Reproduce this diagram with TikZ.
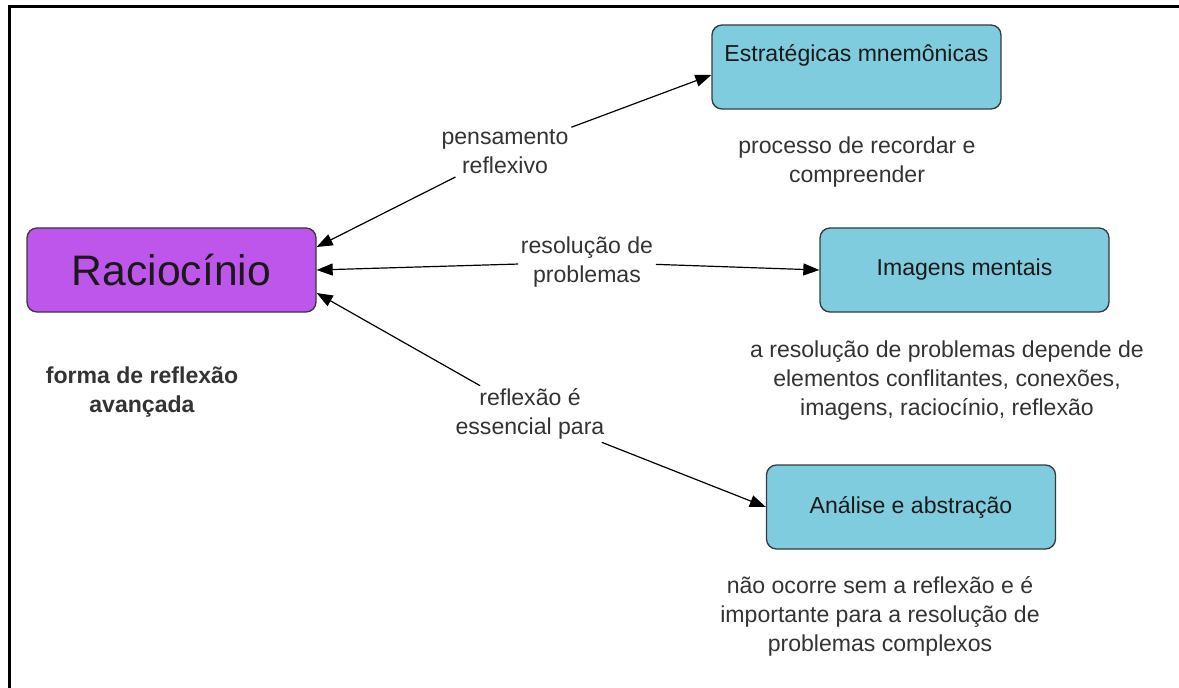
\documentclass[tikz,border=0pt]{standalone}
\usepackage{fontspec}
\setmainfont{Liberation Sans}
\usepackage{xcolor}
\usetikzlibrary{arrows.meta,shapes}
\usetikzlibrary{positioning}

\definecolor{racfill}{HTML}{BF56EC}
\definecolor{boxfill}{HTML}{7ECCDE}
\definecolor{boxdraw}{HTML}{36393D}
\definecolor{txtgray}{HTML}{333333}
\definecolor{txtdark}{HTML}{1A1A1A}

\begin{document}
\begin{tikzpicture}[x=0.75pt,y=-0.75pt]
            \tikzstyle{every node}=[font=\fontsize{17.3}{21.75}\selectfont,align=center,text=txtgray];
            \tikzstyle{conceito}=[draw=boxdraw,line width=1pt,rounded corners=7.5pt,minimum width=216.75pt,minimum height=63pt,inner sep=0pt,text=txtdark];
            \tikzstyle{rotulo}=[inner sep=2pt];
            \tikzstyle{seta}=[draw,line width=0.9pt,-{Triangle[length=12pt,width=9pt]}];
            \useasboundingbox (0,0) rectangle (1179,688);
            \draw[line width=2.25pt] (9,688) -- (9,7) -- (1179,7);
            \node[conceito,fill=racfill,font=\fontsize{32}{38}\selectfont] (rac) at (171.5,270) {Raciocínio};
            \node[conceito,fill=boxfill] (est) at (856.5,67) {\strut Estratégicas mnemônicas\\[-4.5pt]\strut};
            \node[conceito,fill=boxfill] (img) at (964.5,270) {Imagens mentais};
            \node[conceito,fill=boxfill] (ana) at (911,507) {Análise e abstração};
            \node[rotulo] (pens) at (505,152) {pensamento\\reflexivo};
            \node[rotulo] (resol) at (587,262) {resolução de\\problemas};
            \node[rotulo] (essen) at (530,414) {reflexão é\\essencial para};
            \node (notarac) at (142,392) {\bfseries forma de reflexão\\\bfseries avançada};
            \node (notaest) at (857,162) {processo de recordar e\\compreender};
            \node (notaimg) at (947,381) {a resolução de problemas depende de\\elementos conflitantes, conexões,\\imagens, raciocínio, reflexão};
            \node (notaana) at (880,616) {não ocorre sem a reflexão e é\\importante para a resolução de\\problemas complexos};
            \path[seta] (pens) -- ([yshift=-6pt]est.west);
            \path[seta] (pens) -- ([yshift=17.25pt]rac.east);
            \path[seta] (resol) -- (img.west);
            \path[seta] (resol) -- (rac.east);
            \path[seta] (essen) -- (ana.west);
            \path[seta] (essen) -- ([yshift=-17.25pt]rac.east);
        \end{tikzpicture}
\end{document}
